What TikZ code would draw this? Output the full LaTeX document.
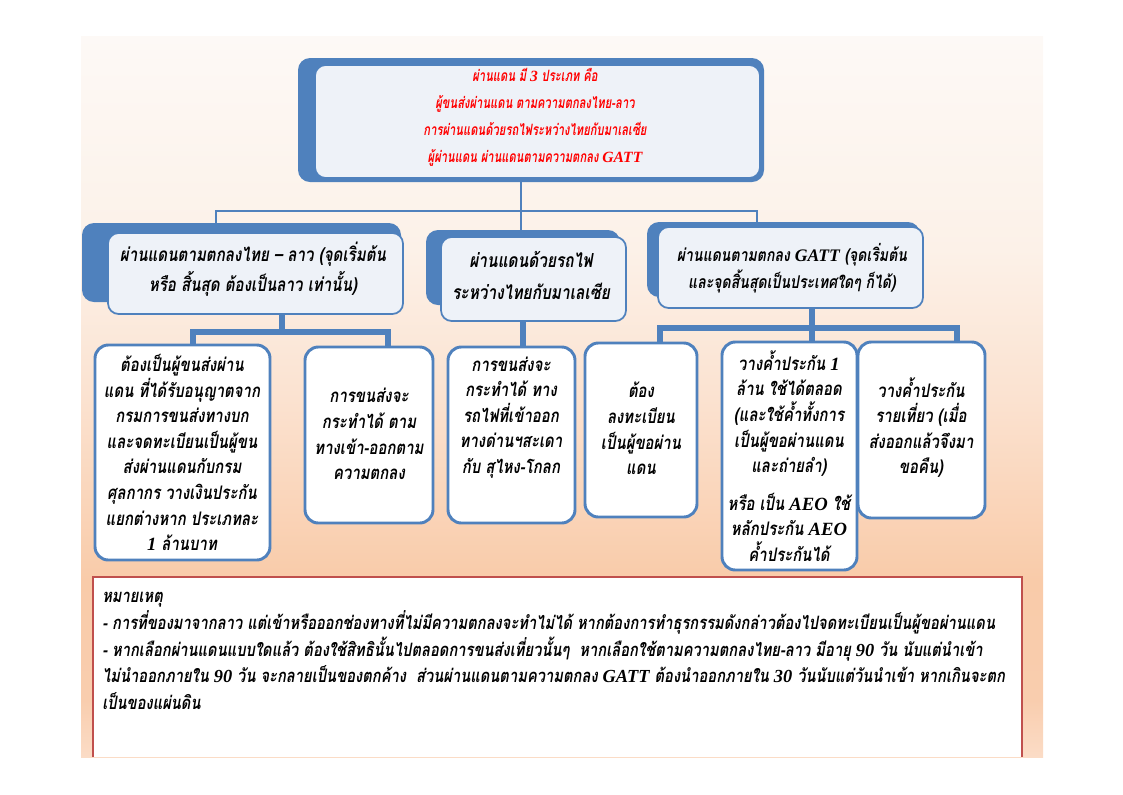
\documentclass[tikz,border=0pt]{standalone}
\usepackage{fontspec}
\newfontfamily\thai[Script=Thai,FakeStretch=0.8]{Loma}
\newfontfamily\thaic[Script=Thai,FakeStretch=0.72]{Loma}
\newfontfamily\ltnf{Liberation Serif}
\newcommand\latn[1]{{\ltnf #1}}
\usetikzlibrary{fit}
\definecolor{oblue}{HTML}{4F81BD}
\definecolor{lfill}{HTML}{EEF2F8}
\definecolor{nred}{HTML}{C0504D}
\definecolor{p0}{HTML}{FBDCC6}
\definecolor{p1}{HTML}{F9CDAE}
\definecolor{p2}{HTML}{F9CBA9}
\definecolor{p3}{HTML}{FBE2D0}
\definecolor{p4}{HTML}{FCF1E8}
\definecolor{p5}{HTML}{FDF9F6}
\pgfdeclareverticalshading{bgshade}{100bp}{color(0bp)=(p0); color(25bp)=(p0); color(28.95bp)=(p1); color(37.3bp)=(p2); color(49.8bp)=(p3); color(60.2bp)=(p4); color(75bp)=(p5); color(100bp)=(p5)}
\tikzset{
  back/.style={fill=oblue, draw=none, rounded corners=9pt, inner sep=0pt},
  front/.style={fill=lfill, draw=oblue, line width=1.3pt, rounded corners=8pt, inner sep=0pt},
  leaf/.style={fill=white, draw=oblue, line width=2.2pt, rounded corners=10pt, inner sep=0pt},
  c1/.style={draw=oblue, line width=2pt},
  c2/.style={draw=oblue, line width=4pt},
  ttop/.style={align=center, text=red, inner sep=0pt, font=\thaic\bfseries\itshape\fontsize{11.7}{20.25}\selectfont},
  tmid/.style={align=center, inner sep=0pt, font=\thai\bfseries\itshape\fontsize{14.2}{22.5}\selectfont},
  tleaf/.style={align=center, inner sep=0pt, font=\thai\bfseries\itshape\fontsize{14}{19.2}\selectfont},
  tnote/.style={anchor=base west, inner sep=0pt, font=\thai\bfseries\itshape\fontsize{13.8}{20}\selectfont}
}
\begin{document}
\begin{tikzpicture}[x=0.75pt, y=-0.75pt]
\useasboundingbox (0,0) rectangle (1123,794);
% background panel
\fill[shading=bgshade] (81,36) rectangle (1043,757);

% top box
\node[back, fit={(298,58) (764,182)}] (topback) {};
\node[front, fit={(315,65) (760,178)}] (topfront) {};
\node[ttop] (toptext) at (535,117.5) {ผ่านแดน มี \latn{3} ประเภท คือ\\
ผู้ขนส่งผ่านแดน ตามความตกลงไทย-ลาว\\
การผ่านแดนด้วยรถไฟระหว่างไทยกับมาเลเซีย\\
ผู้ผ่านแดน ผ่านแดนตามความตกลง \latn{GATT}};

% level 2
\node[back, fit={(82,223) (401,302)}] (Aback) {};
\node[front, fit={(108,233) (403,314)}] (Afront) {};
\node[tmid] (Atext) at (253,269) {ผ่านแดนตามตกลงไทย – ลาว (จุดเริ่มต้น\\หรือ สิ้นสุด ต้องเป็นลาว เท่านั้น)};

\node[back, fit={(426,230) (620,305)}] (Bback) {};
\node[front, fit={(441,237) (626,321)}] (Bfront) {};
\node[tmid, font=\thai\bfseries\itshape\fontsize{14.5}{24}\selectfont] (Btext) at (531,275) {ผ่านแดนด้วยรถไฟ\\ระหว่างไทยกับมาเลเซีย};

\node[back, fit={(647,222) (920,297)}] (Cback) {};
\node[front, fit={(658,227) (923,308)}] (Cfront) {};
\node[tmid, font=\thai\bfseries\itshape\fontsize{13.2}{20.25}\selectfont] (Ctext) at (792,268.5) {ผ่านแดนตามตกลง \latn{GATT} (จุดเริ่มต้น\\และจุดสิ้นสุดเป็นประเทศใดๆ ก็ได้)};

% level 3
\node[leaf, fit={(95,345) (270,560)}] (l1) {};
\node[leaf, fit={(305,347) (433,523)}] (l2) {};
\node[leaf, fit={(448,347) (575,523)}] (l3) {};
\node[leaf, fit={(585,343) (697,517)}] (l4) {};
\node[leaf, fit={(722,342) (857,570)}] (l5) {};
\node[leaf, fit={(858,342) (985,518)}] (l6) {};

\node[tleaf] (l1t) at (182,452.5) {ต้องเป็นผู้ขนส่งผ่าน\\แดน ที่ได้รับอนุญาตจาก\\กรมการขนส่งทางบก\\และจดทะเบียนเป็นผู้ขน\\ส่งผ่านแดนกับกรม\\ศุลกากร วางเงินประกัน\\แยกต่างหาก ประเภทละ\\\latn{1} ล้านบาท};
\node[tleaf] (l2t) at (369,434) {การขนส่งจะ\\กระทำได้ ตาม\\ทางเข้า-ออกตาม\\ความตกลง};
\node[tleaf] (l3t) at (511,417.5) {การขนส่งจะ\\กระทำได้ ทาง\\รถไฟที่เข้าออก\\ทางด่านฯสะเดา\\กับ สุไหง-โกลก};
\node[tleaf] (l4t) at (641,428.5) {ต้อง\\ลงทะเบียน\\เป็นผู้ขอผ่าน\\แดน};
\node[tleaf] (l5t) at (789,456) {วางค้ำประกัน \latn{1}\\ล้าน ใช้ได้ตลอด\\(และใช้ค้ำทั้งการ\\เป็นผู้ขอผ่านแดน\\และถ่ายลำ)\\[9pt]หรือ เป็น \latn{AEO} ใช้\\หลักประกัน \latn{AEO}\\ค้ำประกันได้};
\node[tleaf] (l6t) at (921,427.5) {วางค้ำประกัน\\รายเที่ยว (เมื่อ\\ส่งออกแล้วจึงมา\\ขอคืน)};

% connectors level 1
\coordinate (xT) at (521,0);
\coordinate (xA) at (216,0);
\coordinate (xC) at (757,0);
\coordinate (yB1) at (0,211);
\draw[c1] (topback.south -| xT) -- (xT |- Bback.north);
\draw[c1] (xA |- Aback.north) -- (xA |- yB1) -- (xC |- yB1) -- (xC |- Cback.north);

% connectors level 2
\coordinate (xa) at (282,0);
\coordinate (x1) at (193,0);
\coordinate (x2) at (388,0);
\coordinate (yA) at (0,332);
\draw[c2] (xa |- Afront.south) -- (xa |- yA);
\draw[c2] (x1 |- l1.north) -- (x1 |- yA) -- (x2 |- yA) -- (x2 |- l2.north);

\coordinate (xb) at (523,0);
\draw[c2] (xb |- Bfront.south) -- (xb |- l3.north);

\coordinate (xc) at (812,0);
\coordinate (x4) at (660,0);
\coordinate (x6) at (957,0);
\coordinate (yC) at (0,328);
\draw[c2] (xc |- Cfront.south) -- (xc |- l5.north);
\draw[c2] (x4 |- l4.north) -- (x4 |- yC) -- (x6 |- yC) -- (x6 |- l6.north);

% note box
\fill[white] (93,577) rectangle (1022,757);
\draw[nred, line width=2.2pt] (93,757) -- (93,577) -- (1022,577) -- (1022,757);
\node[tnote] (n1) at (102,602) {หมายเหตุ};
\node[tnote] (n2) at (102,629) {- การที่ของมาจากลาว แต่เข้าหรือออกช่องทางที่ไม่มีความตกลงจะทำไม่ได้ หากต้องการทำธุรกรรมดังกล่าวต้องไปจดทะเบียนเป็นผู้ขอผ่านแดน};
\node[tnote] (n3) at (102,656) {- หากเลือกผ่านแดนแบบใดแล้ว ต้องใช้สิทธินั้นไปตลอดการขนส่งเที่ยวนั้นๆ~~หากเลือกใช้ตามความตกลงไทย-ลาว มีอายุ \latn{90} วัน นับแต่นำเข้า};
\node[tnote] (n4) at (102,682) {ไม่นำออกภายใน \latn{90} วัน จะกลายเป็นของตกค้าง~~ส่วนผ่านแดนตามความตกลง \latn{GATT} ต้องนำออกภายใน \latn{30} วันนับแต่วันนำเข้า หากเกินจะตก};
\node[tnote] (n5) at (102,709) {เป็นของแผ่นดิน};
\end{tikzpicture}
\end{document}
